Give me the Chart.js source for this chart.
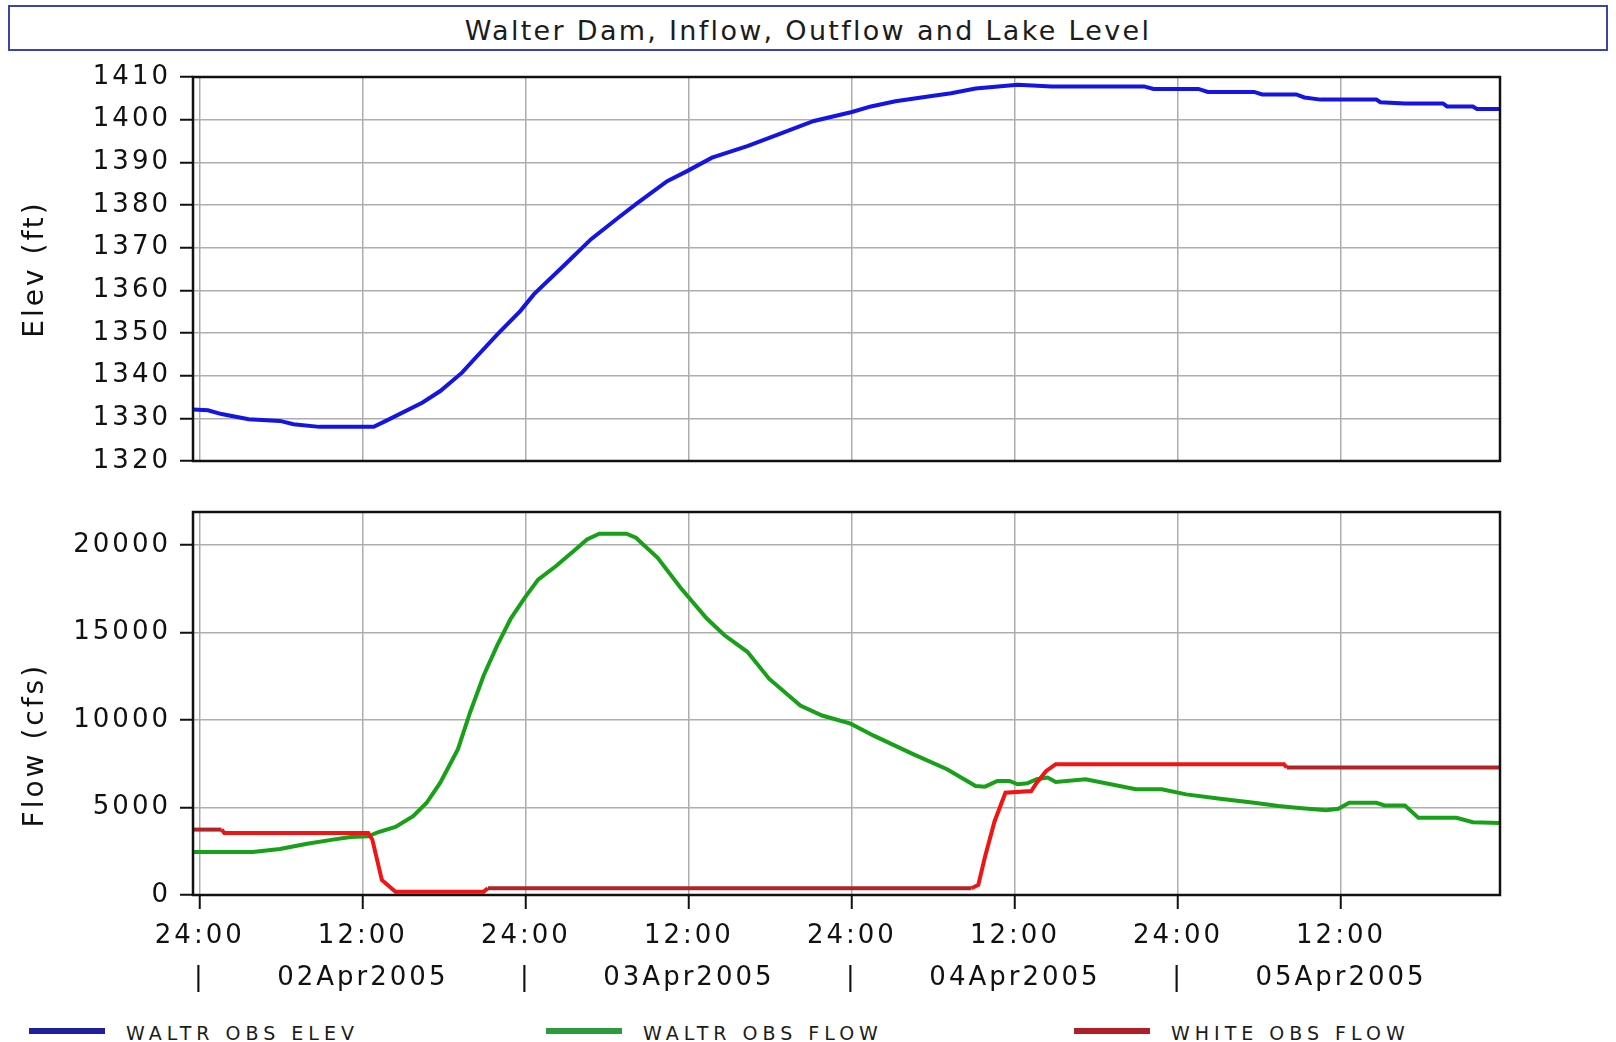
<!DOCTYPE html>
<html>
<head>
<meta charset="utf-8">
<title>Walter Dam, Inflow, Outflow and Lake Level</title>
<script src="https://cdn.jsdelivr.net/npm/chart.js@4/dist/chart.umd.min.js"></script>
<style>
  html, body { margin: 0; padding: 0; background: #fff; }
  #page { position: relative; width: 1616px; height: 1042px; overflow: hidden; font-family: "DejaVu Sans", sans-serif; }
  #title {
    position: absolute; left: 8px; top: 5px; width: 1600px; height: 46px; box-sizing: border-box;
    border: 2px solid #3a44b0; text-align: center; font-size: 27px; line-height: 48px;
    letter-spacing: 2.3px; color: #1c1c1c; white-space: nowrap;
  }
  #elevChart { position: absolute; left: 0; top: 0; }
  #flowChart { position: absolute; left: 0; top: 480px; }
  .key { position: absolute; top: 1024px; font-size: 19px; line-height: 19px; letter-spacing: 5px; color: #1c1c1c; white-space: nowrap; }
  .swatch { position: absolute; top: 1028px; width: 76px; height: 6px; }
</style>
</head>
<body>
<div id="page">
  <div id="title">Walter Dam, Inflow, Outflow and Lake Level</div>
  <canvas id="elevChart" width="1616" height="486"></canvas>
  <canvas id="flowChart" width="1616" height="530"></canvas>

  <div class="swatch" style="left:29px; background:#1f1fa0"></div>
  <div class="key" style="left:126px">WALTR OBS ELEV</div>
  <div class="swatch" style="left:546px; background:#2f9a3a"></div>
  <div class="key" style="left:643px">WALTR OBS FLOW</div>
  <div class="swatch" style="left:1074px; background:#b01e28"></div>
  <div class="key" style="left:1171px">WHITE OBS FLOW</div>
</div>

<script>
// hours counted from 02Apr2005 00:00 (shown as 01Apr 24:00)
const elevHours = [-0.5, 0.6, 1.6, 3.6, 5.9, 6.9, 8.8, 12.8, 13.7, 16.4, 17.7, 19.3, 20.3, 21.9, 23.6,
  24.6, 26.9, 28.8, 30.8, 32.1, 34.4, 35.9, 37.7, 40.3, 42.3, 45.2, 48.0, 49.4, 51.2, 53.1, 55.3,
  57.1, 60.2, 62.7, 69.5, 70.2, 73.5, 74.2, 77.6, 78.2, 80.7, 81.3, 82.5, 86.6, 86.9, 88.7, 91.5,
  91.8, 93.7, 94.0, 95.7];
const elevFeet = [1332.1, 1331.9, 1331.0, 1329.8, 1329.4, 1328.6, 1328.0, 1328.0, 1329.4, 1333.7,
  1336.4, 1340.7, 1344.2, 1349.7, 1355.2, 1359.1, 1366.1, 1372.0, 1377.0, 1380.2, 1385.6, 1388.0,
  1391.1, 1393.8, 1396.2, 1399.7, 1401.8, 1403.1, 1404.3, 1405.2, 1406.2, 1407.3, 1408.2, 1407.8,
  1407.8, 1407.2, 1407.2, 1406.5, 1406.5, 1405.9, 1405.9, 1405.2, 1404.7, 1404.7, 1404.1, 1403.8,
  1403.8, 1403.1, 1403.1, 1402.5, 1402.5];

const waltrFlowHours = [-0.5, 3.9, 5.9, 7.9, 9.8, 11.1, 12.4, 13.1, 14.4, 15.7, 16.7, 17.7, 19.0,
  19.9, 20.9, 21.9, 22.9, 23.9, 24.9, 26.2, 27.5, 28.5, 29.4, 31.4, 32.1, 33.7, 35.4, 37.3, 38.6,
  40.3, 41.9, 44.2, 45.8, 47.9, 49.6, 52.5, 55.0, 57.1, 57.8, 58.7, 59.6, 60.2, 60.9, 61.6, 62.4,
  63.0, 65.2, 68.9, 70.8, 72.6, 75.1, 77.6, 79.4, 80.7, 82.9, 83.8, 84.6, 86.6, 87.2, 88.7, 89.7,
  92.5, 93.7, 95.7];
const waltrFlowCfs = [2455, 2455, 2628, 2935, 3165, 3318, 3357, 3587, 3894, 4507, 5275, 6425, 8343,
  10453, 12563, 14289, 15824, 16975, 18030, 18797, 19660, 20331, 20657, 20657, 20427, 19276, 17550,
  15824, 14865, 13906, 12371, 10837, 10262, 9800, 9111, 8056, 7193, 6234, 6195, 6521, 6521, 6330,
  6387, 6617, 6713, 6464, 6617, 6042, 6042, 5754, 5504, 5275, 5083, 4987, 4852, 4929, 5275, 5275,
  5121, 5121, 4411, 4411, 4162, 4124];

const whiteFlowHours = [-0.5, 1.6, 1.8, 12.4, 12.7, 13.4, 14.4, 20.9, 21.2, 56.8, 57.3, 57.8, 58.5,
  59.3, 61.2, 61.6, 62.3, 63.0, 79.8, 80.0, 95.7];
const whiteFlowCfs = [3740, 3740, 3548, 3548, 3165, 863, 192, 192, 384, 384, 575, 2206, 4220,
  5850, 5946, 6425, 7097, 7480, 7480, 7288, 7288];

const hourTicks = [0, 12, 24, 36, 48, 60, 72, 84];
const timeLabels = ['24:00', '12:00', '24:00', '12:00', '24:00', '12:00', '24:00', '12:00'];
const dateLabels = ['|', '02Apr2005', '|', '03Apr2005', '|', '04Apr2005', '|', '05Apr2005'];
const elevTicks = [1320, 1330, 1340, 1350, 1360, 1370, 1380, 1390, 1400, 1410];
const flowTicks = [0, 5000, 10000, 15000, 20000];

const xMin = -0.5, xMax = 95.7;
const font = 'DejaVu Sans';
const gridColor = '#adadad';
const ink = '#111';

const toPoints = (xs, ys) => xs.map((x, i) => ({ x, y: ys[i] }));

// the reference draws its text wide, so space the canvas letters out a little
const textSpacing = {
  id: 'textSpacing',
  beforeDraw(chart) { chart.ctx.letterSpacing = '3px'; },
};

const plotFrame = {
  id: 'plotFrame',
  afterDraw(chart) {
    const { ctx, chartArea: a } = chart;
    ctx.save();
    ctx.strokeStyle = ink;
    ctx.lineWidth = 2.5;
    ctx.strokeRect(a.left, a.top, a.right - a.left, a.bottom - a.top);
    ctx.restore();
  },
};

const yAxis = (min, max, ticks, title) => ({
  min, max,
  afterBuildTicks: (s) => { s.ticks = ticks.map((v) => ({ value: v })); },
  afterFit: (s) => { s.width = 193; },
  border: { display: false },
  grid: { color: gridColor, lineWidth: 1.5, tickLength: 13, tickColor: ink, tickWidth: 2 },
  ticks: { color: ink, padding: 9, font: { family: font, size: 26 }, callback: (v) => String(v) },
  title: { display: true, text: title, color: ink, font: { family: font, size: 28 }, padding: { top: 19, bottom: 0 } },
});

const baseOptions = {
  responsive: false,
  animation: false,
  events: [],
  plugins: { legend: { display: false }, tooltip: { enabled: false } },
};

new Chart(document.getElementById('elevChart'), {
  type: 'line',
  data: {
    datasets: [{
      label: 'WALTR OBS ELEV',
      data: toPoints(elevHours, elevFeet),
      borderColor: '#1414e6',
      borderWidth: 4,
      pointRadius: 0,
      tension: 0,
    }],
  },
  options: {
    ...baseOptions,
    layout: { padding: { top: 77, right: 116, bottom: 25, left: 0 } },
    scales: {
      x: {
        type: 'linear', min: xMin, max: xMax,
        afterBuildTicks: (s) => { s.ticks = hourTicks.map((v) => ({ value: v })); },
        afterFit: (s) => { s.height = 0; },
        border: { display: false },
        grid: { color: gridColor, lineWidth: 1.5, drawTicks: false },
        ticks: { display: false },
      },
      y: yAxis(1320, 1410, elevTicks, 'Elev (ft)'),
    },
  },
  plugins: [textSpacing, plotFrame],
});

// WHITE flow is drawn darker where the record is flat
const dimSpans = [[-1, 1.7], [21, 57], [79.9, 97]];

new Chart(document.getElementById('flowChart'), {
  type: 'line',
  data: {
    datasets: [
      {
        label: 'WHITE OBS FLOW',
        data: toPoints(whiteFlowHours, whiteFlowCfs),
        borderColor: '#b02428',
        borderWidth: 4,
        pointRadius: 0,
        tension: 0,
        segment: {
          borderColor: (c) => dimSpans.some(([a, b]) => c.p0.parsed.x >= a && c.p1.parsed.x <= b) ? '#b02428' : '#f01414',
        },
      },
      {
        label: 'WALTR OBS FLOW',
        data: toPoints(waltrFlowHours, waltrFlowCfs),
        borderColor: '#18a018',
        borderWidth: 4,
        pointRadius: 0,
        tension: 0,
      },
    ],
  },
  options: {
    ...baseOptions,
    layout: { padding: { top: 32, right: 116, bottom: 0, left: 0 } },
    scales: {
      x: {
        type: 'linear', min: xMin, max: xMax,
        afterBuildTicks: (s) => { s.ticks = hourTicks.map((v) => ({ value: v })); },
        afterFit: (s) => { s.height = 115; },
        border: { display: false },
        grid: { color: gridColor, lineWidth: 1.5, tickLength: 14, tickColor: ink, tickWidth: 2 },
        ticks: {
          autoSkip: false, maxRotation: 0, padding: 6, color: ink,
          font: { family: font, size: 26, lineHeight: '42px' },
          callback: (v, i) => [timeLabels[i], dateLabels[i]],
        },
      },
      // trailing spaces push the title down to where the reference has it
      y: yAxis(0, 21900, flowTicks, 'Flow (cfs)' + '\u00a0'.repeat(7)),
    },
  },
  plugins: [textSpacing, plotFrame],
});
</script>
</body>
</html>
